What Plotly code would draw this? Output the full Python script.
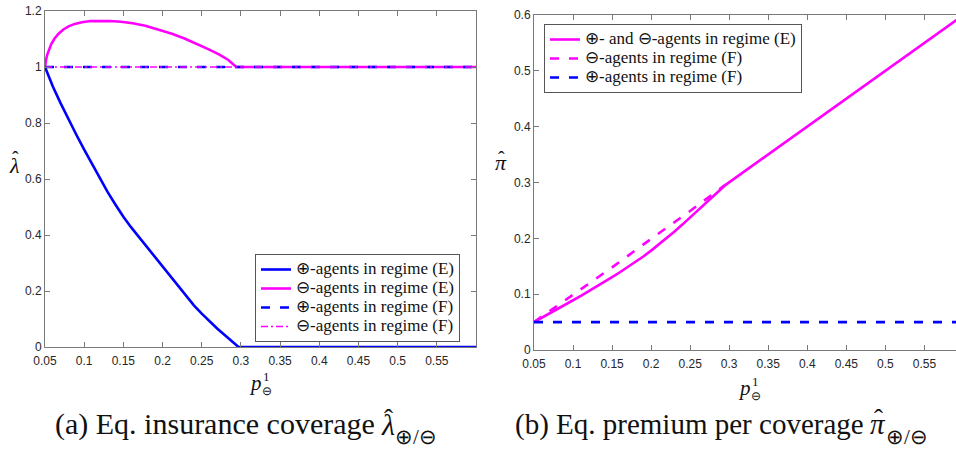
import plotly.graph_objects as go

W, H = 956, 449

# ---------------- data: panel (a) insurance coverage ----------------
p_a_plus_E = [0.05, 0.06, 0.07, 0.08, 0.09, 0.10, 0.11, 0.12, 0.13, 0.14, 0.15, 0.16,
              0.17, 0.18, 0.19, 0.20, 0.21, 0.22, 0.23, 0.24, 0.25, 0.26, 0.27, 0.28,
              0.29, 0.297, 0.60]
lam_a_plus_E = [1.0, 0.93, 0.87, 0.812, 0.758, 0.705, 0.653, 0.60, 0.553, 0.508, 0.465,
                0.427, 0.392, 0.357, 0.321, 0.285, 0.25, 0.215, 0.181, 0.149, 0.119,
                0.091, 0.065, 0.041, 0.017, 0.0, 0.0]

p_a_minus_E = [0.05, 0.0505, 0.0515, 0.053, 0.055, 0.058, 0.062, 0.067, 0.073, 0.080, 0.088,
               0.097, 0.108, 0.12, 0.133, 0.147, 0.162, 0.178, 0.195, 0.212, 0.228, 0.244,
               0.259, 0.272, 0.284, 0.294, 0.60]
lam_a_minus_E = [1.0, 1.012, 1.028, 1.045, 1.062, 1.082, 1.101, 1.118, 1.133, 1.145, 1.154,
                 1.160, 1.164, 1.1655, 1.1645, 1.1615, 1.156, 1.147, 1.134, 1.119, 1.102,
                 1.083, 1.063, 1.045, 1.025, 1.0, 1.0]

p_a_F = [0.05, 0.60]
lam_a_plus_F = [1.0, 1.0]
lam_a_minus_F = [1.0, 1.0]

# ---------------- data: panel (b) premium per coverage ----------------
p_b_E = [0.05, 0.06, 0.07, 0.08, 0.09, 0.10, 0.11, 0.12, 0.13, 0.14, 0.15, 0.16, 0.17,
         0.18, 0.19, 0.20, 0.21, 0.22, 0.23, 0.24, 0.25, 0.26, 0.27, 0.28, 0.29, 0.295, 0.60]
pi_b_E = [0.050, 0.0581, 0.0659, 0.0736, 0.0813, 0.0891, 0.097, 0.1051, 0.1134, 0.1219,
          0.1305, 0.1392, 0.1482, 0.1576, 0.1675, 0.178, 0.1891, 0.2005, 0.2124, 0.2246,
          0.2371, 0.2498, 0.2627, 0.2757, 0.2888, 0.2954, 0.60]

p_b_minus_F = [0.05, 0.10, 0.15, 0.20, 0.25, 0.295]
pi_b_minus_F = [0.050, 0.099, 0.148, 0.199, 0.249, 0.296]

p_b_plus_F = [0.05, 0.60]
pi_b_plus_F = [0.05, 0.05]

# ---------------- ticks & labels ----------------
x_tick_vals = [0.05, 0.10, 0.15, 0.20, 0.25, 0.30, 0.35, 0.40, 0.45, 0.50, 0.55]
x_tick_text = ["0.05", "0.1", "0.15", "0.2", "0.25", "0.3", "0.35", "0.4", "0.45", "0.5", "0.55"]
y_tick_vals_a = [0, 0.2, 0.4, 0.6, 0.8, 1.0, 1.2]
y_tick_text_a = ["0", "0.2", "0.4", "0.6", "0.8", "1", "1.2"]
y_tick_vals_b = [0, 0.1, 0.2, 0.3, 0.4, 0.5, 0.6]
y_tick_text_b = ["0", "0.1", "0.2", "0.3", "0.4", "0.5", "0.6"]

names_a = ["⊕-agents in regime (E)", "⊖-agents in regime (E)",
           "⊕-agents in regime (F)", "⊖-agents in regime (F)"]
names_b = ["⊕- and ⊖-agents in regime (E)", "⊖-agents in regime (F)",
           "⊕-agents in regime (F)"]
caption_a = "(a) Eq. insurance coverage"
caption_b = "(b) Eq. premium per coverage"

BLUE = "#0000ff"
MAGENTA = "#ff00ff"
AX = "#7a7a7a"
TXT = "#111111"
SERIF = "Liberation Serif, Times New Roman, serif"
SANS = "Liberation Sans, Arial, Helvetica, sans-serif"
DASH = "9px,10px"
DASHDOT = "7px,3px,2px,3px"


def lg(name):
    return '<span style="font-size:17px">' + name + "</span>"


fig = go.Figure()

# panel (a)
fig.add_trace(go.Scatter(x=p_a_plus_E, y=lam_a_plus_E, mode="lines", name=lg(names_a[0]),
                         line=dict(color=BLUE, width=2.6), xaxis="x", yaxis="y", legend="legend"))
fig.add_trace(go.Scatter(x=p_a_minus_E, y=lam_a_minus_E, mode="lines", name=lg(names_a[1]),
                         line=dict(color=MAGENTA, width=2.6), xaxis="x", yaxis="y",
                         legend="legend"))
fig.add_trace(go.Scatter(x=p_a_F, y=lam_a_plus_F, mode="lines", name=lg(names_a[2]),
                         line=dict(color=BLUE, width=2.6, dash=DASH), xaxis="x", yaxis="y",
                         legend="legend"))
fig.add_trace(go.Scatter(x=p_a_F, y=lam_a_minus_F, mode="lines", name=lg(names_a[3]),
                         line=dict(color=MAGENTA, width=1.6, dash=DASHDOT), xaxis="x", yaxis="y",
                         legend="legend"))

# panel (b)
fig.add_trace(go.Scatter(x=p_b_E, y=pi_b_E, mode="lines", name=lg(names_b[0]),
                         line=dict(color=MAGENTA, width=2.6), xaxis="x2", yaxis="y2",
                         legend="legend2"))
fig.add_trace(go.Scatter(x=p_b_minus_F, y=pi_b_minus_F, mode="lines", name=lg(names_b[1]),
                         line=dict(color=MAGENTA, width=2.6, dash=DASH), xaxis="x2", yaxis="y2",
                         legend="legend2"))
fig.add_trace(go.Scatter(x=p_b_plus_F, y=pi_b_plus_F, mode="lines", name=lg(names_b[2]),
                         line=dict(color=BLUE, width=2.6, dash=DASH), xaxis="x2", yaxis="y2",
                         legend="legend2"))

axis_common = dict(showline=True, linecolor=AX, linewidth=1, ticks="inside", ticklen=5,
                   tickcolor=AX, tickwidth=1, showgrid=False, zeroline=False,
                   tickfont=dict(family=SANS, size=12, color="#262626"),
                   tickmode="array", automargin=False, fixedrange=True)

fig.update_layout(
    width=W, height=H,
    margin=dict(l=0, r=0, t=0, b=0),
    paper_bgcolor="white", plot_bgcolor="white",
    showlegend=True,
    xaxis=dict(axis_common, domain=[45 / W, 476 / W], range=[0.05, 0.60], anchor="y",
               mirror="ticks", tickvals=x_tick_vals, ticktext=x_tick_text,
               ticklabelstandoff=3),
    yaxis=dict(axis_common, domain=[1 - 347 / H, 1 - 11 / H], range=[0, 1.2], anchor="x",
               mirror="ticks", tickvals=y_tick_vals_a, ticktext=y_tick_text_a),
    xaxis2=dict(axis_common, domain=[534 / W, 1.0], range=[0.05, 0.5905], anchor="y2",
                mirror="ticks", tickvals=x_tick_vals, ticktext=x_tick_text,
                ticklabelstandoff=3),
    yaxis2=dict(axis_common, domain=[1 - 350 / H, 1 - 15 / H], range=[0, 0.6], anchor="x2",
                mirror=False, tickvals=y_tick_vals_b, ticktext=y_tick_text_b),
    legend=dict(x=255 / W, y=1 - 254 / H, xanchor="left", yanchor="top", bgcolor="white",
                bordercolor="#555555", borderwidth=1,
                font=dict(family=SERIF, size=12, color=TXT)),
    legend2=dict(x=544 / W, y=1 - 24 / H, xanchor="left", yanchor="top", bgcolor="white",
                 bordercolor="#555555", borderwidth=1,
                 font=dict(family=SERIF, size=12, color=TXT)),
)


def ann(text, x, y, size, xanchor="center", yanchor="middle"):
    fig.add_annotation(text=text, x=x / W, y=1 - y / H, xref="paper", yref="paper",
                       showarrow=False, xanchor=xanchor, yanchor=yanchor,
                       font=dict(family=SERIF, size=size, color=TXT))


# y-axis titles (letter + hat)
ann("<i>λ</i>", 14, 165, 22)
ann("ˆ", 16, 159, 20)
ann("<i>π</i>", 501, 162, 22)
ann("ˆ", 502, 159, 20)

# x-axis titles p^1_⊖
ann("<i>p</i>", 255, 383, 21)
ann("1", 266, 376, 13)
ann("⊖", 266.5, 391, 12)
ann("<i>p</i>", 744, 388, 21)
ann("1", 755, 381, 13)
ann("⊖", 755.5, 396, 12)

# captions
ann(caption_a, 377, 424, 30, xanchor="right")
ann("<i>λ</i>", 379, 424, 30, xanchor="left")
ann("ˆ", 388, 419, 27)
ann("⊕/⊖", 393, 437, 21, xanchor="left")

ann(caption_b, 866, 424, 29, xanchor="right")
ann("<i>π</i>", 868, 424, 29, xanchor="left")
ann("ˆ", 878, 419, 27)
ann("⊕/⊖", 884, 437, 21, xanchor="left")

fig.write_html("out.html", config={"displayModeBar": False},
               post_script="document.body.style.margin='0px';")
